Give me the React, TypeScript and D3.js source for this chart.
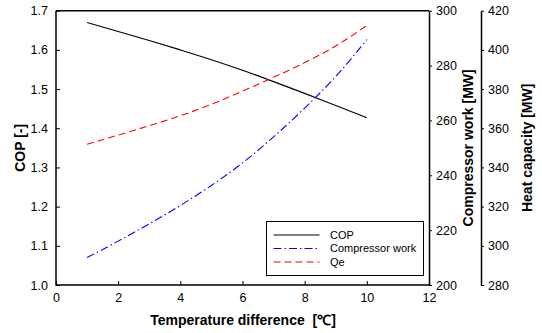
import * as d3 from 'd3';
import React, { useEffect, useRef } from 'react';

const tempDiff = [1, 2, 3, 4, 5, 6, 7, 8, 9, 10];
const copValues = [1.670, 1.647, 1.624, 1.600, 1.575, 1.548, 1.519, 1.489, 1.458, 1.427];
const compressorWork = [210.0, 216.0, 222.3, 229.0, 236.3, 244.5, 254.0, 264.5, 276.0, 289.5];
const heatCapacity = [351.8, 356.5, 361.3, 366.4, 372.2, 379.0, 386.0, 393.5, 402.0, 412.5];

const xTicks = [0, 2, 4, 6, 8, 10, 12];
const copTicks = [1.0, 1.1, 1.2, 1.3, 1.4, 1.5, 1.6, 1.7];
const workTicks = [200, 220, 240, 260, 280, 300];
const heatTicks = [280, 300, 320, 340, 360, 380, 400, 420];

const FONT = 'Arial, "Liberation Sans", sans-serif';

const App: React.FC = () => {
    const svgRef = useRef<SVGSVGElement>(null);

    useEffect(() => {
        if (!svgRef.current) return;
        d3.select(svgRef.current).selectAll('*').remove();

        const width = 542;
        const height = 333;
        const left = 56;
        const right = 429;
        const top = 10.7;
        const bottom = 285;
        const axis2X = 481;

        const svg = d3.select(svgRef.current)
            .attr('width', width)
            .attr('height', height)
            .style('font-family', FONT);

        const x = d3.scaleLinear().domain([0, 12]).range([left, right]);
        const yCop = d3.scaleLinear().domain([1.0, 1.7]).range([bottom, top]);
        const yWork = d3.scaleLinear().domain([200, 300]).range([bottom, top]);
        const yHeat = d3.scaleLinear().domain([280, 420]).range([bottom, top]);

        // curves
        const series = [
            { label: 'COP', values: copValues, y: yCop, color: '#000', dash: '' },
            { label: 'Compressor work', values: compressorWork, y: yWork, color: '#0000ff', dash: '8,3,1.5,3' },
            { label: 'Qe', values: heatCapacity, y: yHeat, color: '#ff0000', dash: '7,4' },
        ];

        series.forEach((s) => {
            const line = d3.line<number>()
                .x((_, i) => x(tempDiff[i]))
                .y((d) => s.y(d))
                .curve(d3.curveMonotoneX);
            svg.append('path')
                .datum(s.values)
                .attr('d', line)
                .attr('fill', 'none')
                .attr('stroke', s.color)
                .attr('stroke-width', 1.1)
                .attr('stroke-dasharray', s.dash || null);
        });

        // frame: left, bottom, top
        svg.append('path')
            .attr('d', `M${left},${top}H${right}M${left},${top}V${bottom}H${right}`)
            .attr('fill', 'none')
            .attr('stroke', '#000')
            .attr('stroke-width', 1.5);

        // bottom axis
        const xAxis = svg.append('g')
            .attr('transform', `translate(0,${bottom})`)
            .call(d3.axisBottom(x).tickValues(xTicks).tickSizeInner(-4).tickSizeOuter(0).tickPadding(8).tickFormat(d3.format('d')));
        xAxis.select('.domain').remove();

        // left axis
        const yAxis = svg.append('g')
            .attr('transform', `translate(${left},0)`)
            .call(d3.axisLeft(yCop).tickValues(copTicks).tickSizeInner(-4).tickSizeOuter(0).tickPadding(8).tickFormat(d3.format('.1f')));
        yAxis.select('.domain').remove();

        // right axis 1
        const wAxis = svg.append('g')
            .attr('transform', `translate(${right},0)`)
            .call(d3.axisRight(yWork).tickValues(workTicks).tickSizeInner(3).tickSizeOuter(0).tickPadding(4));

        // right axis 2
        const hAxis = svg.append('g')
            .attr('transform', `translate(${axis2X},0)`)
            .call(d3.axisRight(yHeat).tickValues(heatTicks).tickSizeInner(3).tickSizeOuter(0).tickPadding(4));

        [xAxis, yAxis, wAxis, hAxis].forEach((g) => {
            g.selectAll('text')
                .attr('font-size', 12.5)
                .attr('font-family', FONT)
                .attr('fill', '#000');
            g.selectAll('line').attr('stroke', '#000').attr('stroke-width', 1);
            g.select('.domain').attr('stroke', '#000').attr('stroke-width', 1.5);
        });

        // axis titles
        svg.append('text')
            .attr('x', (left + right) / 2 + 0.5)
            .attr('y', 325)
            .attr('text-anchor', 'middle')
            .attr('font-size', 14)
            .attr('font-weight', 'bold')
            .attr('xml:space', 'preserve')
            .style('white-space', 'pre')
            .text('Temperature difference  [℃]');

        svg.append('text')
            .attr('transform', `translate(24.5,${(top + bottom) / 2}) rotate(-90)`)
            .attr('text-anchor', 'middle')
            .attr('font-size', 14)
            .attr('font-weight', 'bold')
            .text('COP [-]');

        svg.append('text')
            .attr('transform', `translate(473,${(top + bottom) / 2}) rotate(-90)`)
            .attr('text-anchor', 'middle')
            .attr('font-size', 14)
            .attr('font-weight', 'bold')
            .text('Compressor work [MW]');

        svg.append('text')
            .attr('transform', `translate(531.5,${(top + bottom) / 2}) rotate(-90)`)
            .attr('text-anchor', 'middle')
            .attr('font-size', 14)
            .attr('font-weight', 'bold')
            .text('Heat capacity [MW]');

        // legend
        const legend = svg.append('g').attr('transform', 'translate(266.5,221.5)');
        legend.append('rect')
            .attr('width', 157)
            .attr('height', 54)
            .attr('fill', '#fff')
            .attr('stroke', '#000')
            .attr('stroke-width', 1);
        series.forEach((s, i) => {
            const ly = 13.5 + i * 13.5;
            legend.append('line')
                .attr('x1', 7)
                .attr('x2', 53)
                .attr('y1', ly)
                .attr('y2', ly)
                .attr('stroke', s.color)
                .attr('stroke-width', 1.1)
                .attr('stroke-dasharray', s.dash || null);
            legend.append('text')
                .attr('x', 63.5)
                .attr('y', ly)
                .attr('dy', '0.35em')
                .attr('font-size', 11)
                .attr('fill', '#000')
                .text(s.label);
        });
    }, []);

    return (
        <div style={{ position: 'absolute', left: 0, top: 0 }}>
            <svg ref={svgRef}></svg>
        </div>
    );
};

export default App;
